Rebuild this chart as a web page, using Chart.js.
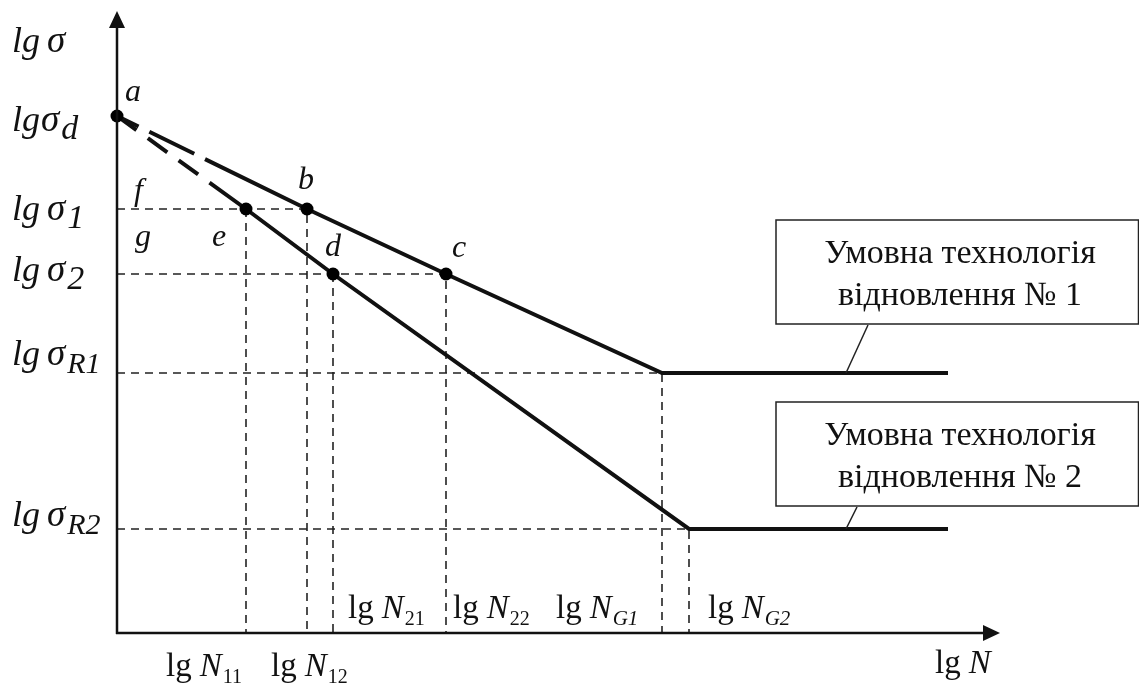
<!DOCTYPE html>
<html lang="uk">
<head>
<meta charset="UTF-8">
<title>lg σ – lg N</title>
<script src="https://cdn.jsdelivr.net/npm/chart.js"></script>
<style>
    body { margin: 0; background: #fff; }
    .wrap { width: 1139px; height: 688px; position: relative; }
</style>
</head>
<body>
<div class="wrap"><canvas id="diagram"></canvas></div>
<script>
// tick values (measured from the origin of the lg N / lg σ axes)
const nTicks = [129, 190, 216, 329, 545, 572];
const nSubs = ['11', '12', '21', '22', 'G1', 'G2'];
const sigmaTicks = [517, 424, 359, 260, 104];
const sigmaSubs = ['d', '1', '2', 'R1', 'R2'];

// the two curves
const tech1N = [0, 190, 329, 545, 831];
const tech1S = [517, 424, 359, 260, 260];
const tech2N = [0, 129, 216, 572, 831];
const tech2S = [517, 424, 359, 104, 104];

// marked points
const pointNames = ['a', 'b', 'c', 'd', 'e'];
const pointN = [0, 190, 329, 216, 129];
const pointS = [517, 424, 359, 359, 424];

// dashed guides: corner (n, σ), and whether a horizontal part runs to the σ axis
const guideN = [190, 129, 329, 216, 545, 572];
const guideS = [424, 424, 359, 359, 260, 104];
const guideHoriz = [true, false, true, false, true, true];

const boxTexts = [
    ['Умовна технологія', 'відновлення № 1'],
    ['Умовна технологія', 'відновлення № 2']
];

const SERIF = "'Liberation Serif', 'Times New Roman', serif";
const INK = '#111';

function xy(ns, ss) {
    return ns.map((n, i) => ({ x: n, y: ss[i] }));
}

const guideSets = guideN.map((n, i) => {
    const pts = [];
    if (guideHoriz[i]) pts.push({ x: 0, y: guideS[i] });
    pts.push({ x: n, y: guideS[i] }, { x: n, y: 0 });
    return {
        data: pts,
        borderColor: '#222',
        borderWidth: 1.6,
        borderDash: [8, 6],
        pointRadius: 0,
        order: 3
    };
});

const datasets = [
    ...guideSets,
    {
        data: xy(tech1N, tech1S),
        borderColor: INK,
        borderWidth: 4,
        pointRadius: 0,
        order: 2,
        segment: { borderDash: c => c.p0DataIndex === 0 ? [24, 12, 50, 12, 3000, 0] : undefined }
    },
    {
        data: xy(tech2N, tech2S),
        borderColor: INK,
        borderWidth: 4,
        pointRadius: 0,
        order: 2,
        segment: { borderDash: c => c.p0DataIndex === 0 ? [24, 14, 24, 14, 24, 14, 3000, 0] : undefined }
    },
    {
        data: xy(pointN, pointS),
        showLine: false,
        pointRadius: 6.5,
        pointBackgroundColor: '#000',
        pointBorderWidth: 0,
        order: 1
    }
];

function runs(ctx, x, y, parts) {
    for (const p of parts) {
        ctx.font = p.f;
        ctx.fillText(p.t, x, y + (p.dy || 0));
        x += ctx.measureText(p.t).width + (p.gap || 0);
    }
}

const sketch = {
    id: 'sketch',
    afterDatasetsDraw(chart) {
        const ctx = chart.ctx;
        const X = v => chart.scales.x.getPixelForValue(v);
        const Y = v => chart.scales.y.getPixelForValue(v);
        const ox = X(0), oy = Y(0);
        ctx.save();
        ctx.fillStyle = INK;
        ctx.strokeStyle = INK;

        // axes with arrows
        ctx.lineWidth = 2.5;
        ctx.beginPath();
        ctx.moveTo(ox, oy + 1);
        ctx.lineTo(ox, Y(605));
        ctx.moveTo(ox - 1, oy);
        ctx.lineTo(X(866), oy);
        ctx.stroke();
        ctx.beginPath();
        ctx.moveTo(ox, Y(622));
        ctx.lineTo(ox - 8, Y(605));
        ctx.lineTo(ox + 8, Y(605));
        ctx.closePath();
        ctx.moveTo(X(883), oy);
        ctx.lineTo(X(866), oy - 8);
        ctx.lineTo(X(866), oy + 8);
        ctx.closePath();
        ctx.fill();

        ctx.textBaseline = 'alphabetic';
        ctx.textAlign = 'left';
        const it = s => 'italic ' + s + 'px ' + SERIF;
        const rg = s => s + 'px ' + SERIF;

        // lg σ labels
        runs(ctx, 12, 52, [{ t: 'lg', f: it(36), gap: 7 }, { t: 'σ', f: it(37) }]);
        const nudge = [15, 11, 7, -8, -3];
        sigmaTicks.forEach((v, i) => {
            const y = Y(v) + nudge[i];
            const tight = sigmaSubs[i] === 'd';
            runs(ctx, 12, y, [
                { t: 'lg', f: it(36), gap: tight ? 1 : 7 },
                { t: 'σ', f: it(37), gap: 2 },
                { t: sigmaSubs[i], f: it(sigmaSubs[i].length > 1 ? 30 : 34), dy: 8 }
            ]);
        });

        // lg N labels
        const below = [true, true, false, false, false, false];
        const shift = [-80, -36, 15, 7, -106, 19];
        nTicks.forEach((v, i) => {
            const y = below[i] ? oy + 43 : oy - 15;
            runs(ctx, X(v) + shift[i], y, [
                { t: 'lg', f: rg(33), gap: 8 },
                { t: 'N', f: it(33), gap: 1 },
                { t: nSubs[i], f: (nSubs[i][0] === 'G' ? it(21) : rg(20)), dy: 7 }
            ]);
        });
        runs(ctx, X(818), oy + 40, [{ t: 'lg', f: rg(33), gap: 8 }, { t: 'N', f: it(33) }]);

        // point letters
        const off = { a: [8, -15], b: [-9, -20], c: [6, -17], d: [-8, -18], e: [-34, 37] };
        ctx.font = it(32);
        pointNames.forEach((nm, i) => {
            ctx.fillText(nm, X(pointN[i]) + off[nm][0], Y(pointS[i]) + off[nm][1]);
        });
        ctx.fillText('f', ox + 17, Y(sigmaTicks[1]) - 9);
        ctx.fillText('g', ox + 18, Y(sigmaTicks[1]) + 37);

        // callout boxes
        const boxes = [
            { top: 413, bottom: 309, from: [751, 308], to: [729, 260] },
            { top: 231, bottom: 127, from: [740, 126], to: [729, 104] }
        ];
        boxes.forEach((b, i) => {
            const x0 = X(659), x1 = X(1021.5), y0 = Y(b.top), y1 = Y(b.bottom);
            ctx.fillStyle = '#fff';
            ctx.fillRect(x0, y0, x1 - x0, y1 - y0);
            ctx.lineWidth = 1.5;
            ctx.strokeStyle = '#222';
            ctx.strokeRect(x0, y0, x1 - x0, y1 - y0);
            ctx.beginPath();
            ctx.moveTo(X(b.from[0]), Y(b.from[1]));
            ctx.lineTo(X(b.to[0]), Y(b.to[1]));
            ctx.stroke();
            ctx.fillStyle = INK;
            ctx.textAlign = 'center';
            ctx.font = rg(34);
            ctx.fillText(boxTexts[i][0], X(843), y0 + 43);
            ctx.fillText(boxTexts[i][1], X(843), y0 + 85);
            ctx.textAlign = 'left';
        });
        ctx.restore();
    }
};

new Chart(document.getElementById('diagram'), {
    type: 'line',
    data: { datasets },
    options: {
        responsive: true,
        maintainAspectRatio: false,
        animation: false,
        layout: { padding: 0, autoPadding: false },
        plugins: { legend: { display: false }, tooltip: { enabled: false } },
        elements: { line: { tension: 0, fill: false } },
        scales: {
            x: { type: 'linear', min: -117, max: 1022, display: false },
            y: { type: 'linear', min: -55, max: 633, display: false }
        }
    },
    plugins: [sketch]
});
</script>
</body>
</html>
